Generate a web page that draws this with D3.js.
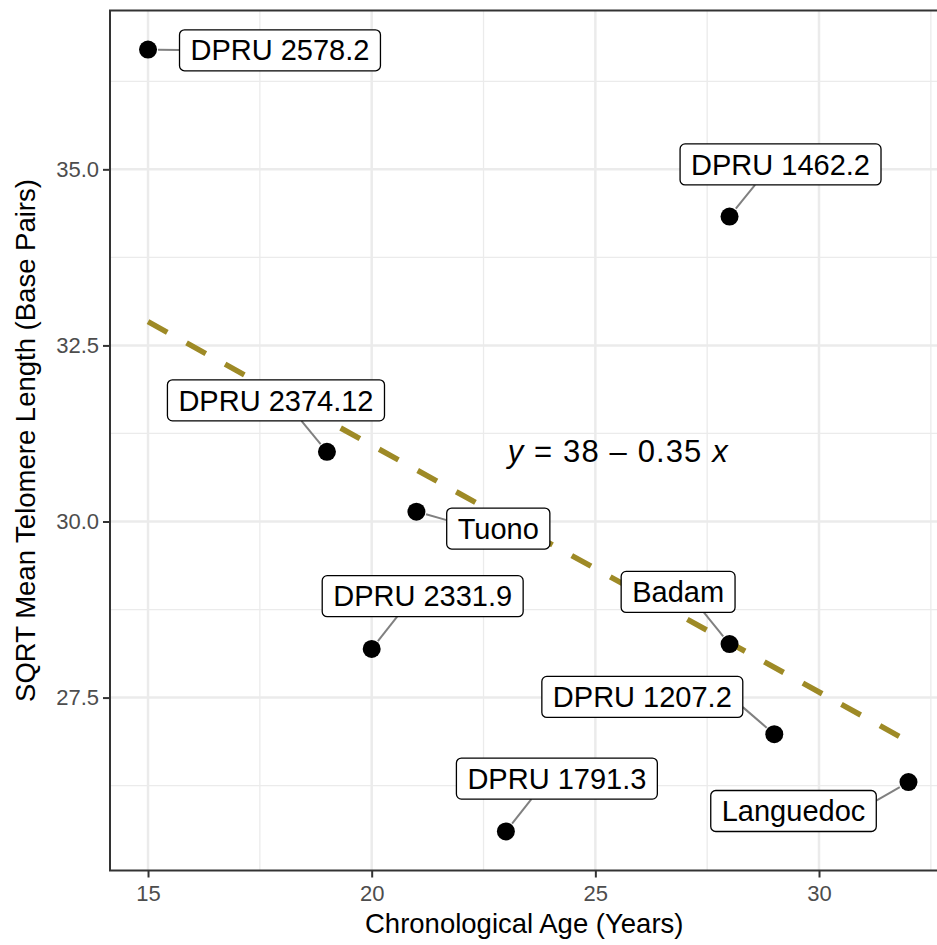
<!DOCTYPE html>
<html>
<head>
<meta charset="utf-8">
<script src="https://cdn.jsdelivr.net/npm/d3@7"></script>
<style>
  body { margin: 0; background: #fff; }
  svg { font-family: "Liberation Sans", Arial, Helvetica, sans-serif; }
</style>
</head>
<body>
<svg id="chart"></svg>
<script>
// cultivars and their measurements
const cultivars = ["DPRU 2578.2", "DPRU 1462.2", "DPRU 2374.12", "Tuono", "DPRU 2331.9",
                   "Badam", "DPRU 1207.2", "Languedoc", "DPRU 1791.3"];
const ages = [15, 28, 19, 21, 20, 28, 29, 32, 23];
const telomere = [36.70, 34.33, 30.99, 30.14, 28.19, 28.26, 26.98, 26.30, 25.60];

// where the repelled labels ended up (data units)
const labelAge = [17.95, 29.14, 17.86, 22.83, 21.14, 26.85, 26.05, 29.43, 24.14];
const labelLen = [36.69, 35.07, 31.72, 29.90, 28.94, 29.00, 27.51, 25.89, 26.35];

const xTicks = [15, 20, 25, 30];
const xMinor = [17.5, 22.5, 27.5, 32.5];
const yTicks = [27.5, 30, 32.5, 35];
const yMinor = [26.25, 28.75, 31.25, 33.75, 36.25];

const eqPos = [25.5, 31];

function main() {
    const width = 937;
    const height = 945;
    const panel = { left: 110, right: 946.5, top: 10.5, bottom: 870.5 };

    const svg = d3.select("#chart").attr("width", width).attr("height", height);

    const x = d3.scaleLinear().domain(expand(d3.extent(ages))).range([panel.left, panel.right]);
    const y = d3.scaleLinear().domain(expand(d3.extent(telomere))).range([panel.bottom, panel.top]);

    // grid
    const grid = svg.append("g");
    grid.selectAll(".xminor").data(xMinor).join("line")
        .attr("x1", d => x(d)).attr("x2", d => x(d))
        .attr("y1", panel.top).attr("y2", panel.bottom)
        .attr("stroke", "#ebebeb").attr("stroke-width", 1.3);
    grid.selectAll(".yminor").data(yMinor).join("line")
        .attr("y1", d => y(d)).attr("y2", d => y(d))
        .attr("x1", panel.left).attr("x2", panel.right)
        .attr("stroke", "#ebebeb").attr("stroke-width", 1.3);
    grid.selectAll(".xmajor").data(xTicks).join("line")
        .attr("x1", d => x(d)).attr("x2", d => x(d))
        .attr("y1", panel.top).attr("y2", panel.bottom)
        .attr("stroke", "#ebebeb").attr("stroke-width", 2.5);
    grid.selectAll(".ymajor").data(yTicks).join("line")
        .attr("y1", d => y(d)).attr("y2", d => y(d))
        .attr("x1", panel.left).attr("x2", panel.right)
        .attr("stroke", "#ebebeb").attr("stroke-width", 2.5);

    // least squares fit
    const fit = linearFit(ages, telomere);
    const xr = d3.extent(ages);
    svg.append("line")
        .attr("x1", x(xr[0])).attr("y1", y(fit.a + fit.b * xr[0]))
        .attr("x2", x(xr[1])).attr("y2", y(fit.a + fit.b * xr[1]))
        .attr("stroke", "#9e8a26").attr("stroke-width", 5.5)
        .attr("stroke-dasharray", "22,22");

    // points
    svg.selectAll(".pt").data(ages).join("circle")
        .attr("cx", d => x(d)).attr("cy", (d, i) => y(telomere[i]))
        .attr("r", 9).attr("fill", "#000");

    // labels
    const labels = svg.append("g").selectAll("g").data(cultivars).join("g");
    labels.each(function (name, i) {
        const g = d3.select(this);
        const cx = x(labelAge[i]), cy = y(labelLen[i]);
        const px = x(ages[i]), py = y(telomere[i]);
        const seg = g.append("line").attr("stroke", "#808080").attr("stroke-width", 2);
        const rect = g.append("rect");
        const txt = g.append("text")
            .attr("x", cx).attr("y", cy).attr("dy", "0.35em")
            .attr("text-anchor", "middle").attr("font-size", 29).attr("fill", "#000")
            .text(name);
        const w = txt.node().getComputedTextLength() + 22;
        const h = 41;
        rect.attr("x", cx - w / 2).attr("y", cy - h / 2).attr("width", w).attr("height", h)
            .attr("rx", 5).attr("ry", 5)
            .attr("fill", "#fff").attr("stroke", "#000").attr("stroke-width", 1.3);

        // connect to the nearest side, halfway between the point and that side's middle
        const x1 = cx - w / 2, x2 = cx + w / 2, y1 = cy - h / 2, y2 = cy + h / 2;
        const ox = px < x1 ? x1 - px : (px > x2 ? px - x2 : 0);
        const oy = py < y1 ? y1 - py : (py > y2 ? py - y2 : 0);
        let ex, ey;
        if (ox > oy) {
            ex = px < x1 ? x1 : x2;
            ey = (Math.max(y1, Math.min(y2, py)) + cy) / 2;
        } else {
            ey = py < y1 ? y1 : y2;
            ex = (Math.max(x1, Math.min(x2, px)) + cx) / 2;
        }
        const len = Math.hypot(px - ex, py - ey);
        if ((ox > 0 || oy > 0) && len > 10) {
            const ux = (ex - px) / len, uy = (ey - py) / len;
            seg.attr("x1", px + ux * 10).attr("y1", py + uy * 10)
               .attr("x2", ex).attr("y2", ey);
        } else {
            seg.remove();
        }
    });

    // equation
    const fmt = d3.format(".2~r");
    const eq = svg.append("text")
        .attr("x", x(eqPos[0])).attr("y", y(eqPos[1])).attr("dy", "0.35em")
        .attr("text-anchor", "middle").attr("font-size", 31).attr("fill", "#000")
        .attr("textLength", 220).attr("lengthAdjust", "spacing");
    eq.append("tspan").attr("font-style", "italic").text("y");
    eq.append("tspan").text(" = " + fmt(fit.a) + " " + (fit.b < 0 ? "\u2013" : "+") + " " + fmt(Math.abs(fit.b)) + " ");
    eq.append("tspan").attr("font-style", "italic").text("x");

    // panel border
    svg.append("rect")
        .attr("x", panel.left).attr("y", panel.top)
        .attr("width", panel.right - panel.left).attr("height", panel.bottom - panel.top)
        .attr("fill", "none").attr("stroke", "#333333").attr("stroke-width", 2);

    // axes
    const xAxis = svg.append("g").attr("transform", "translate(0," + panel.bottom + ")")
        .call(d3.axisBottom(x).tickValues(xTicks).tickSize(7).tickPadding(8).tickFormat(d3.format("d")));
    const yAxis = svg.append("g").attr("transform", "translate(" + panel.left + ",0)")
        .call(d3.axisLeft(y).tickValues(yTicks).tickSize(7).tickPadding(4).tickFormat(d3.format(".1f")));
    styleAxis(xAxis);
    styleAxis(yAxis);

    svg.append("text")
        .attr("x", (panel.left + 946.5) / 2 - 4).attr("y", 933)
        .attr("text-anchor", "middle").attr("font-size", 27.5).attr("fill", "#000")
        .text("Chronological Age (Years)");
    svg.append("text")
        .attr("transform", "translate(35," + (panel.top + panel.bottom) / 2 + ") rotate(-90)")
        .attr("text-anchor", "middle").attr("font-size", 27.5).attr("fill", "#000")
        .text("SQRT Mean Telomere Length (Base Pairs)");
}

function expand(ext) {
    const pad = (ext[1] - ext[0]) * 0.05;
    return [ext[0] - pad, ext[1] + pad];
}

function linearFit(xs, ys) {
    const mx = d3.mean(xs), my = d3.mean(ys);
    let sxy = 0, sxx = 0;
    xs.forEach((v, i) => { sxy += (v - mx) * (ys[i] - my); sxx += (v - mx) * (v - mx); });
    const b = sxy / sxx;
    return { a: my - b * mx, b: b };
}

function styleAxis(g) {
    g.select(".domain").remove();
    g.selectAll(".tick line").attr("stroke", "#333333").attr("stroke-width", 2);
    g.selectAll(".tick text").attr("fill", "#4d4d4d").attr("font-size", 22)
        .attr("font-family", "'Liberation Sans', Arial, Helvetica, sans-serif");
}

main();
</script>
</body>
</html>
